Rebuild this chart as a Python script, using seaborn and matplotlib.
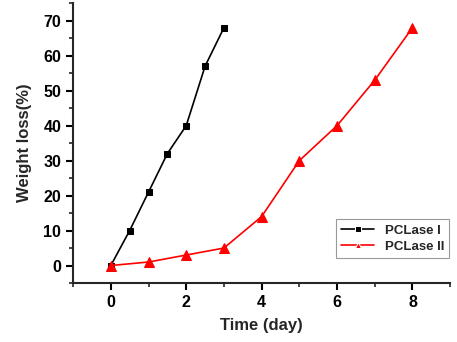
import numpy as np
import pandas as pd
import matplotlib
matplotlib.use("Agg")
import matplotlib.pyplot as plt
import seaborn as sns
from matplotlib.ticker import MultipleLocator

x1 = [0, 0.5, 1, 1.5, 2, 2.5, 3]
y1 = [0, 10, 21, 32, 40, 57, 68]
x2 = [0, 1, 2, 3, 4, 5, 6, 7, 8]
y2 = [0, 1, 3, 5, 14, 30, 40, 53, 68]
names = ["PCLase I", "PCLase II"]

df = pd.concat([
    pd.DataFrame({"Time": x1, "Loss": y1, "Series": names[0]}),
    pd.DataFrame({"Time": x2, "Loss": y2, "Series": names[1]}),
])

sns.set_style("ticks")
plt.rcParams["font.family"] = ["Liberation Sans", "DejaVu Sans"]
plt.rcParams["font.weight"] = "bold"

fig = plt.figure(figsize=(4.57, 3.42), dpi=100)
ax = fig.add_axes([0.16, 0.1725, 0.825, 0.818])
sns.lineplot(data=df, x="Time", y="Loss", hue="Series", style="Series",
             markers=["s", "^"], dashes=False, palette=["black", "red"],
             markersize=5, linewidth=1.2, ax=ax)
for ln, c, ms in zip(ax.lines, ["black", "red"], [5, 6.5]):
    ln.set_markeredgecolor(c)
    ln.set_markersize(ms)

ax.set_xlim(-1, 9)
ax.set_ylim(-5, 75)
ax.xaxis.set_major_locator(MultipleLocator(2))
ax.xaxis.set_minor_locator(MultipleLocator(1))
ax.yaxis.set_major_locator(MultipleLocator(10))
ax.yaxis.set_minor_locator(MultipleLocator(5))
ax.tick_params(which="major", length=5, width=1.5, labelsize=11.5, colors="black")
ax.tick_params(which="minor", length=3, width=1.2)
for t in ax.get_xticklabels() + ax.get_yticklabels():
    t.set_fontweight("bold")
for s in ["left", "bottom"]:
    ax.spines[s].set_linewidth(1.5)
sns.despine(ax=ax)
ax.set_xlabel("Time (day)", fontsize=12, fontweight="bold", labelpad=6)
ax.set_ylabel("Weight loss(%)", fontsize=12, fontweight="bold", labelpad=8)
leg = ax.legend(loc="lower right", bbox_to_anchor=(1.015, 0.065), fontsize=9.5,
                frameon=True, fancybox=False, edgecolor="gray", handlelength=2.5,
                borderpad=0.4, labelspacing=0.3, title=None)
leg.get_frame().set_linewidth(0.8)
for t in leg.get_texts():
    t.set_fontweight("bold")

fig.savefig("out.png", dpi=100)
